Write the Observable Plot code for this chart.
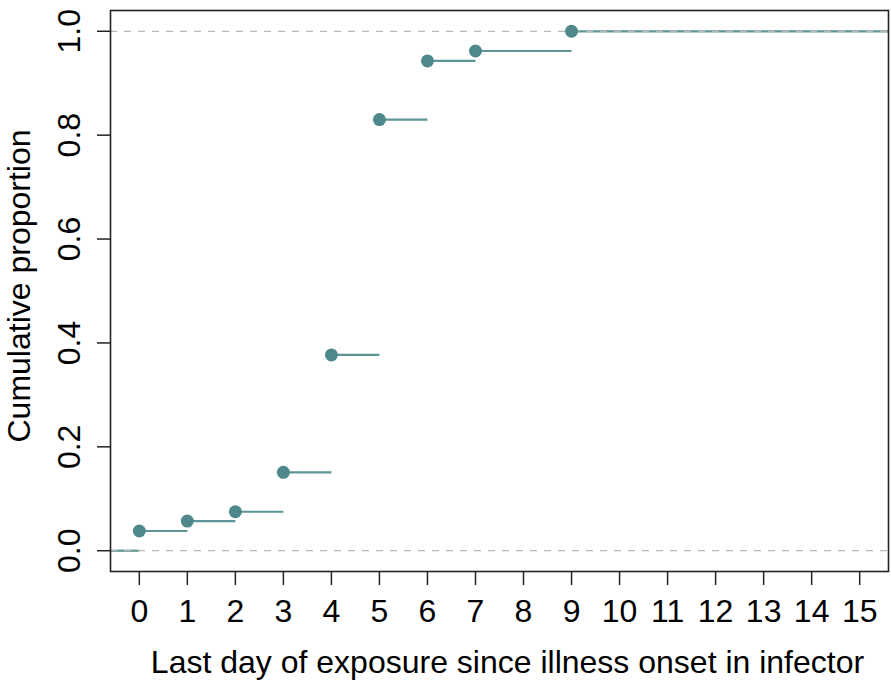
<!DOCTYPE html>
<html>
<head>
<meta charset="utf-8">
<script src="https://cdn.jsdelivr.net/npm/d3@7"></script>
<script src="https://cdn.jsdelivr.net/npm/@observablehq/plot@0.6"></script>
<style>
  html, body { margin: 0; padding: 0; background: #fff; }
  svg { display: block; }
</style>
</head>
<body>
<div id="chart"></div>
<script>
const days = [0, 1, 2, 3, 4, 5, 6, 7, 9];
const cumProportion = [0.038, 0.057, 0.075, 0.151, 0.377, 0.830, 0.943, 0.962, 1.0];
const xTicks = [0, 1, 2, 3, 4, 5, 6, 7, 8, 9, 10, 11, 12, 13, 14, 15];
const yTicks = [0, 0.2, 0.4, 0.6, 0.8, 1.0];
const xTitle = "Last day of exposure since illness onset in infector";
const yTitle = "Cumulative proportion";
const xDomain = [-0.6, 15.6];
const yDomain = [-0.04, 1.04];

const points = days.map((d, i) => ({x: d, y: cumProportion[i]}));
// horizontal step segments: before first jump, between jumps, after last jump
const steps = [{x1: xDomain[0], x2: days[0], y: 0}].concat(
  days.map((d, i) => ({x1: d, x2: i < days.length - 1 ? days[i + 1] : xDomain[1], y: cumProportion[i]}))
);

const dotColor = "#4f888b";
const lineColor = "#5d9496";
const font = "'Liberation Sans', Arial, sans-serif";

const chart = Plot.plot({
  width: 891,
  height: 681,
  marginLeft: 110,
  marginRight: 3,
  marginTop: 10,
  marginBottom: 110,
  style: {fontFamily: font, fontSize: "32px", background: "#fff", color: "#000"},
  x: {domain: xDomain},
  y: {domain: yDomain},
  marks: [
    Plot.link(steps, {x1: "x1", x2: "x2", y1: "y", y2: "y", stroke: lineColor, strokeWidth: 2.2, clip: true}),
    Plot.ruleY([0, 1], {stroke: "#b8b8b8", strokeWidth: 1.3, strokeDasharray: "7,7"}),
    Plot.dot(points, {x: "x", y: "y", r: 6.5, fill: dotColor, stroke: "none"}),
    Plot.axisX({
      ticks: xTicks, tickFormat: d => String(d), tickSize: 14, tickPadding: 14,
      fontSize: 32, stroke: "#222", strokeWidth: 1.5, label: null
    }),
    Plot.axisY({
      ticks: yTicks, tickFormat: d => d.toFixed(1), tickSize: 13, tickPadding: 18,
      tickRotate: -90, fontSize: 32, stroke: "#222", strokeWidth: 1.5, label: null
    }),
    Plot.text([xTitle], {
      text: d => d, frameAnchor: "bottom", lineAnchor: "middle", textAnchor: "middle",
      dy: 91.5, dx: 8, fontSize: 32, fill: "#000"
    }),
    Plot.text([yTitle], {
      text: d => d, frameAnchor: "left", lineAnchor: "middle", textAnchor: "middle", rotate: -90,
      dx: -91, dy: -5, fontSize: 32, fill: "#000"
    }),
    Plot.frame({stroke: "#222", strokeWidth: 1.6})
  ]
});
document.getElementById("chart").appendChild(chart);
</script>
</body>
</html>
